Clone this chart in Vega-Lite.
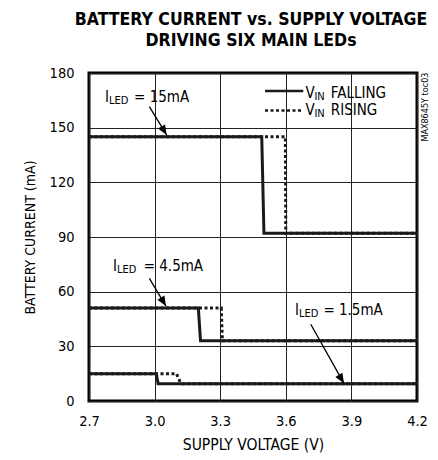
{
  "$schema": "https://vega.github.io/schema/vega-lite/v6.json",
  "autosize": "none",
  "width": 328,
  "height": 328,
  "padding": {"left": 89, "top": 73, "right": 21, "bottom": 59},
  "background": "white",
  "title": {
    "text": ["BATTERY CURRENT vs. SUPPLY VOLTAGE", "DRIVING SIX MAIN LEDs"],
    "font": "DejaVu Sans Condensed",
    "fontWeight": "bold",
    "fontSize": 17.5,
    "lineHeight": 21,
    "anchor": "middle",
    "frame": "group",
    "color": "black",
    "dx": -2,
    "offset": 16
  },
  "config": {
    "view": {"stroke": "black", "strokeWidth": 3},
    "font": "DejaVu Sans Condensed",
    "axis": {
      "grid": true,
      "gridColor": "#222222",
      "gridWidth": 1,
      "gridOpacity": 1,
      "ticks": false,
      "tickSize": 0,
      "domain": false,
      "labelFont": "DejaVu Sans Condensed",
      "labelFontSize": 14.5,
      "labelColor": "black",
      "labelFlush": false,
      "labelOverlap": false,
      "titleFont": "DejaVu Sans Condensed",
      "titleFontSize": 14,
      "titleFontWeight": "normal",
      "titleColor": "black"
    }
  },
  "datasets": {
    "curves": [
      {"curve": "15", "dir": "rising", "o": 1, "x": 2.7, "y": 145},
      {"curve": "15", "dir": "rising", "o": 2, "x": 3.598, "y": 145},
      {"curve": "15", "dir": "rising", "o": 3, "x": 3.6, "y": 92},
      {"curve": "15", "dir": "rising", "o": 4, "x": 4.2, "y": 92},
      {"curve": "4.5", "dir": "rising", "o": 1, "x": 2.7, "y": 51},
      {"curve": "4.5", "dir": "rising", "o": 2, "x": 3.305, "y": 51},
      {"curve": "4.5", "dir": "rising", "o": 3, "x": 3.31, "y": 33},
      {"curve": "4.5", "dir": "rising", "o": 4, "x": 4.2, "y": 33},
      {"curve": "1.5", "dir": "rising", "o": 1, "x": 2.7, "y": 15},
      {"curve": "1.5", "dir": "rising", "o": 2, "x": 3.1, "y": 15},
      {"curve": "1.5", "dir": "rising", "o": 3, "x": 3.12, "y": 9.5},
      {"curve": "1.5", "dir": "rising", "o": 4, "x": 4.2, "y": 9.5},
      {"curve": "15", "dir": "falling", "o": 1, "x": 2.7, "y": 145},
      {"curve": "15", "dir": "falling", "o": 2, "x": 3.49, "y": 145},
      {"curve": "15", "dir": "falling", "o": 3, "x": 3.5, "y": 92},
      {"curve": "15", "dir": "falling", "o": 4, "x": 4.2, "y": 92},
      {"curve": "4.5", "dir": "falling", "o": 1, "x": 2.7, "y": 51},
      {"curve": "4.5", "dir": "falling", "o": 2, "x": 3.2, "y": 51},
      {"curve": "4.5", "dir": "falling", "o": 3, "x": 3.21, "y": 33},
      {"curve": "4.5", "dir": "falling", "o": 4, "x": 4.2, "y": 33},
      {"curve": "1.5", "dir": "falling", "o": 1, "x": 2.7, "y": 15},
      {"curve": "1.5", "dir": "falling", "o": 2, "x": 3.008, "y": 15},
      {"curve": "1.5", "dir": "falling", "o": 3, "x": 3.016, "y": 9.5},
      {"curve": "1.5", "dir": "falling", "o": 4, "x": 4.2, "y": 9.5}
    ],
    "legend": [
      {"dir": "falling", "x": 3.505, "x2": 3.68, "y": 170.1},
      {"dir": "rising", "x": 3.505, "x2": 3.68, "y": 159.4}
    ],
    "main": [
      {"x": 2.773, "y": 164.3, "t": "I"},
      {"x": 2.906, "y": 164.3, "t": "= 15mA"},
      {"x": 2.810, "y": 71.6, "t": "I"},
      {"x": 2.950, "y": 71.6, "t": "= 4.5mA"},
      {"x": 3.642, "y": 47.2, "t": "I"},
      {"x": 3.772, "y": 47.2, "t": "= 1.5mA"},
      {"x": 3.690, "y": 166.3, "t": "V"},
      {"x": 3.806, "y": 166.3, "t": "FALLING"},
      {"x": 3.690, "y": 156.7, "t": "V"},
      {"x": 3.806, "y": 156.7, "t": "RISING"}
    ],
    "subs": [
      {"x": 2.791, "y": 164.3, "t": "LED"},
      {"x": 2.828, "y": 71.6, "t": "LED"},
      {"x": 3.660, "y": 47.2, "t": "LED"},
      {"x": 3.731, "y": 166.3, "t": "IN"},
      {"x": 3.731, "y": 156.7, "t": "IN"}
    ],
    "arrows": [
      {"x": 2.976, "y": 161.5, "x2": 3.055, "y2": 146.0},
      {"x": 2.976, "y": 67.3, "x2": 3.052, "y2": 52.1},
      {"x": 3.714, "y": 42.1, "x2": 3.866, "y2": 9.7}
    ],
    "notes": [
      {"x": 4.236, "y": 161.3, "t": "MAX8645Y toc03"}
    ]
  },
  "encoding": {
    "x": {
      "field": "x",
      "type": "quantitative",
      "scale": {"domain": [2.7, 4.2], "nice": false, "zero": false},
      "axis": {
        "values": [2.7, 3.0, 3.3, 3.6, 3.9, 4.2],
        "format": ".1f",
        "labelPadding": 13,
        "title": "SUPPLY VOLTAGE (V)",
        "titleFontSize": 15.5,
        "titlePadding": 10
      }
    },
    "y": {
      "field": "y",
      "type": "quantitative",
      "scale": {"domain": [0, 180], "nice": false},
      "axis": {
        "values": [0, 30, 60, 90, 120, 150, 180],
        "labelPadding": 15,
        "title": "BATTERY CURRENT (mA)",
        "titlePadding": 12
      }
    }
  },
  "layer": [
    {
      "data": {"name": "curves"},
      "transform": [{"filter": "datum.dir == 'rising'"}],
      "mark": {"type": "line", "color": "#1a1a1a", "strokeWidth": 3, "strokeDash": [3, 2.5], "clip": false},
      "encoding": {
        "detail": {"field": "curve"},
        "order": {"field": "o", "type": "quantitative"}
      }
    },
    {
      "data": {"name": "curves"},
      "transform": [{"filter": "datum.dir == 'falling'"}],
      "mark": {"type": "line", "color": "#1a1a1a", "strokeWidth": 3, "clip": false},
      "encoding": {
        "detail": {"field": "curve"},
        "order": {"field": "o", "type": "quantitative"}
      }
    },
    {
      "data": {"name": "legend"},
      "mark": {"type": "rule", "color": "#1a1a1a", "strokeWidth": 2.5},
      "encoding": {
        "x2": {"field": "x2"},
        "strokeDash": {
          "field": "dir",
          "type": "nominal",
          "scale": {"domain": ["falling", "rising"], "range": [[1, 0], [3, 2.5]]},
          "legend": null
        }
      }
    },
    {
      "data": {"name": "arrows"},
      "mark": {"type": "rule", "color": "black", "strokeWidth": 1.3},
      "encoding": {
        "x2": {"field": "x2"},
        "y2": {"field": "y2"}
      }
    },
    {
      "data": {"name": "arrows"},
      "mark": {"type": "point", "shape": "M0,0L-0.75,-1.8L0.75,-1.8Z", "filled": true, "color": "black", "opacity": 1, "size": 120, "angle": 329},
      "encoding": {
        "x": {"field": "x2", "type": "quantitative"},
        "y": {"field": "y2", "type": "quantitative"}
      }
    },
    {
      "data": {"name": "main"},
      "mark": {"type": "text", "align": "left", "baseline": "alphabetic", "fontSize": 15, "color": "black", "font": "DejaVu Sans Condensed"},
      "encoding": {"text": {"field": "t"}}
    },
    {
      "data": {"name": "subs"},
      "mark": {"type": "text", "align": "left", "baseline": "alphabetic", "fontSize": 11, "dy": 2, "color": "black", "font": "DejaVu Sans Condensed"},
      "encoding": {"text": {"field": "t"}}
    },
    {
      "data": {"name": "notes"},
      "mark": {"type": "text", "align": "center", "baseline": "middle", "angle": 270, "fontSize": 9, "color": "black", "font": "DejaVu Sans Condensed"},
      "encoding": {"text": {"field": "t"}}
    }
  ]
}
